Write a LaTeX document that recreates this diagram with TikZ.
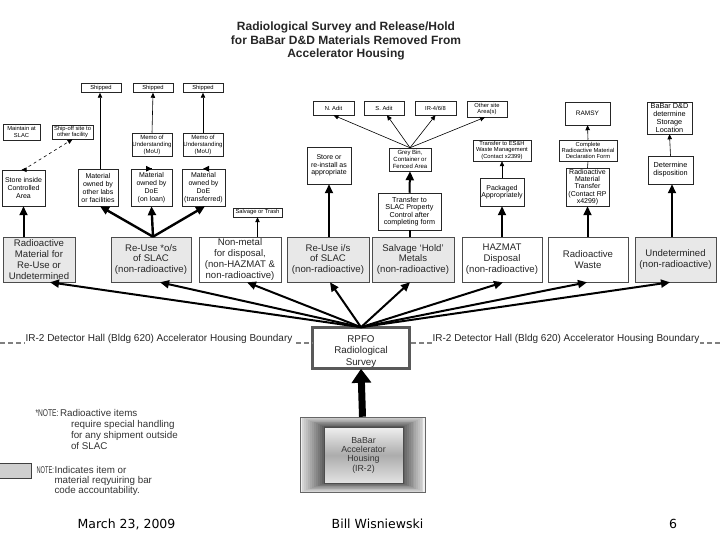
\documentclass[tikz,border=0pt]{standalone}
\usepackage{fontspec}
\setmainfont{Liberation Sans}
\newfontfamily\footfont{DejaVu Sans}
\usetikzlibrary{arrows.meta,calc}
\newcommand{\fsz}[2]{\fontsize{#1}{#2}\selectfont}
\begin{document}
\begin{tikzpicture}[x=1pt,y=-1pt,
  bx/.style={draw=black!85, line width=0.5pt, fill=white, inner sep=0pt, align=center},
  cat/.style={draw=black!70, line width=0.6pt, inner sep=0pt, align=center, minimum height=45, font=\fsz{9.6}{10.9}, text=black!85},
  catg/.style={cat, fill=gray!18},
  catw/.style={cat, fill=white},
  tk/.style={line width=2pt, -{Triangle[length=9pt,width=8pt]}},
  tkn/.style={line width=2pt},
  md/.style={line width=0.9pt, -{Triangle[length=6pt,width=5.5pt]}},
  tn/.style={line width=0.6pt, -{Triangle[length=5pt,width=4.5pt]}},
  bound/.style={draw=gray, line width=1.2pt, dash pattern=on 5pt off 3pt},
  btext/.style={fill=white, inner sep=1pt, font=\fsz{10}{12}, text=black!85},
  note/.style={anchor=base west, font=\fsz{9.8}{11}, text=black!80}
]
\useasboundingbox (0,0) rectangle (720,540);

% title
\node[font=\fsz{12}{13.5}\bfseries, align=center, text=black!85] (title) at (346,41)
  {Radiological Survey and Release/Hold\\for BaBar D\&D Materials Removed From\\Accelerator Housing};

% top row small boxes
\node[bx, minimum width=40, minimum height=9, font=\fsz{5.8}{7}] (ship1) at (101,88) {Shipped};
\node[bx, minimum width=40, minimum height=9, font=\fsz{5.8}{7}] (ship2) at (153,88) {Shipped};
\node[bx, minimum width=40, minimum height=9, font=\fsz{5.8}{7}] (ship3) at (203,88) {Shipped};
\node[bx, minimum width=37, minimum height=16, font=\fsz{5.8}{6.8}] (maint) at (21.5,132) {Maintain at\\SLAC};
\node[bx, minimum width=41, minimum height=14, font=\fsz{5.8}{6.5}] (shipoff) at (72.5,132) {Ship-off site to\\other facility};
\node[bx, minimum width=43, minimum height=36, font=\fsz{7}{7.8}] (store) at (23.5,188) {Store inside\\Controlled\\Area};
\node[bx, minimum width=40, minimum height=37, font=\fsz{7}{8}] (mat1) at (98,187.5) {Material\\owned by\\other labs\\or facilities};
\node[bx, minimum width=41, minimum height=37, font=\fsz{7}{8}] (mat2) at (151.5,187.5) {Material\\owned by\\DoE\\(on loan)};
\node[bx, minimum width=43, minimum height=37, font=\fsz{7}{8}] (mat3) at (203.5,187.5) {Material\\owned by\\DoE\\(transferred)};
\node[bx, minimum width=40, minimum height=23, font=\fsz{6}{7}] (memo1) at (152,144.5) {Memo of\\Understanding\\(MoU)};
\node[bx, minimum width=40, minimum height=23, font=\fsz{6}{7}] (memo2) at (203,144.5) {Memo of\\Understanding\\(MoU)};
\node[bx, minimum width=49, minimum height=9, font=\fsz{5.8}{7}] (salv) at (257.5,212.5) {Salvage or Trash};
\node[bx, minimum width=44, minimum height=37, font=\fsz{7}{7.5}] (storere) at (329,165.5) {Store or\\re-install as\\appropriate};
\node[bx, minimum width=41, minimum height=14, font=\fsz{5.8}{7}] (nadit) at (333.5,108) {N. Adit};
\node[bx, minimum width=40, minimum height=14, font=\fsz{5.8}{7}] (sadit) at (384,108) {S. Adit};
\node[bx, minimum width=41, minimum height=14, font=\fsz{5.8}{7}] (irb) at (435.5,108) {IR-4/6/8};
\node[bx, minimum width=40, minimum height=16, font=\fsz{5.8}{6.5}] (other) at (487,109) {Other site\\Area(s)};
\node[bx, minimum width=42, minimum height=23, font=\fsz{6}{6.8}] (grey) at (410,159.5) {Grey Bin,\\Container or\\Fenced Area};
\node[bx, minimum width=63, minimum height=37, font=\fsz{7.2}{7.4}] (transfer) at (409.5,211.5) {Transfer to\\SLAC Property\\Control after\\completing form};
\node[bx, minimum width=58, minimum height=21, font=\fsz{5.8}{6.2}] (esh) at (502,150.5) {Transfer to ES\&H\\Waste Management\\(Contact x2399)};
\node[bx, minimum width=44, minimum height=28, font=\fsz{7}{7.5}] (pack) at (502,192) {Packaged\\Appropriately};
\node[bx, minimum width=45, minimum height=23, font=\fsz{6.5}{7}] (ramsy) at (587.5,113.5) {RAMSY};
\node[bx, minimum width=58, minimum height=21, font=\fsz{5.8}{6.2}] (complete) at (588,150.5) {Complete\\Radioactive Material\\Declaration Form};
\node[bx, minimum width=43, minimum height=38, font=\fsz{7}{7.3}] (radtrans) at (587.5,187) {Radioactive\\Material\\Transfer\\(Contact RP\\x4299)};
\node[bx, minimum width=45, minimum height=32, font=\fsz{7.3}{7.8}] (babardd) at (669.5,118) {BaBar D\&D\\determine\\Storage\\Location};
\node[bx, minimum width=45, minimum height=28, font=\fsz{7.3}{7.8}] (determ) at (670.5,170) {Determine\\disposition};

% category row
\node[catg, minimum width=72] (c1) at (39,259.5) {Radioactive\\Material for\\Re-Use or\\Undetermined};
\node[catg, minimum width=80] (c2) at (151,259.5) {Re-Use *o/s\\of SLAC\\(non-radioactive)};
\node[catw, minimum width=82] (c3) at (240,259.5) {Non-metal\\for disposal,\\(non-HAZMAT \&\\non-radioactive)};
\node[catg, minimum width=82] (c4) at (328,259.5) {Re-Use i/s\\of SLAC\\(non-radioactive)};
\node[catg, minimum width=82] (c5) at (413,259.5) {Salvage `Hold'\\Metals\\(non-radioactive)};
\node[catw, minimum width=80] (c6) at (502,259.5) {HAZMAT\\Disposal\\(non-radioactive)};
\node[catw, minimum width=80] (c7) at (588,259.5) {Radioactive\\Waste};
\node[catg, minimum width=81] (c8) at (675.5,259.5) {Undetermined\\(non-radioactive)};

% RPFO
\node[draw=black, line width=0.6pt, double=gray!70!black, double distance=2.4pt, fill=white,
  minimum width=97, minimum height=41, inner sep=0pt] (rpfo) at (361,348) {};
\node[align=center, font=\fsz{9.8}{11.2}, text=black!85, inner sep=0pt] (rpfot) at ([yshift=-3.5pt]rpfo.center) {RPFO\\Radiological\\Survey};

% boundary
\coordinate (bl) at (0,343);
\coordinate (br) at (720,343);
\draw[bound] (bl) -- (bl -| rpfo.west);
\draw[bound] (br) -- (br -| rpfo.east);
\node[btext] (bt1) at (159,338.5) {IR-2 Detector Hall (Bldg 620) Accelerator Housing Boundary};
\node[btext] (bt2) at (566,338.5) {IR-2 Detector Hall (Bldg 620) Accelerator Housing Boundary};

% BaBar housing
\node[draw=black!60, line width=0.5pt, fill=gray!12, minimum width=125, minimum height=75, inner sep=0pt] (babarout) at (362.5,454.5) {};
\foreach \i in {1,...,12}{
  \pgfmathsetmacro{\cc}{12+4.5*\i}
  \fill[black!\cc] ($(babarout.north west)+(2*\i,0.8*\i)$) rectangle ($(babarout.south east)+(-1.8*\i,-0.75*\i)$);
}
\node[draw=black!70, line width=0.5pt, minimum width=79, minimum height=56, inner sep=0pt,
  top color=gray!12, bottom color=gray!22, middle color=gray!65, align=center, font=\fsz{8.8}{9.4}, text=black!80]
  (babar) at (363.5,455) {BaBar\\Accelerator\\Housing\\(IR-2)};
\draw[line width=7pt, -{Triangle[length=14pt,width=19pt]}] (babarout.north) -- (rpfo.south);

% RPFO to categories
\draw[tk] (rpfo.north) -- ([xshift=11pt]c1.south);
\draw[tk] (rpfo.north) -- ([xshift=9pt]c2.south);
\draw[tk] (rpfo.north) -- ([xshift=7pt]c3.south);
\draw[tk] (rpfo.north) -- ([xshift=2pt]c4.south);
\draw[tk] (rpfo.north) -- ([xshift=-3pt]c5.south);
\draw[tk] (rpfo.north) -- ([xshift=1pt]c6.south);
\draw[tk] (rpfo.north) -- ([xshift=-1pt]c7.south);
\draw[tk] (rpfo.north) -- ([xshift=-5.5pt]c8.south);

% categories upward
\draw[tk] (store.south |- c1.north) -- (store.south);
\draw[tk, line width=2.4pt] ([xshift=2pt]c2.north) -- ([xshift=2pt]mat1.south);
\draw[tk, line width=2.4pt] ([xshift=2pt]c2.north) -- (mat2.south);
\draw[tk, line width=2.4pt] ([xshift=2pt]c2.north) -- ([xshift=1.5pt]mat3.south);
\draw[tn] (salv.south |- c3.north) -- (salv.south);
\draw[tk] (storere.south |- c4.north) -- (storere.south);
\draw[tkn] (transfer.south |- c5.north) -- (transfer.south);
\draw[tk] (transfer.north) -- (grey.south);
\draw[tk] (pack.south |- c6.north) -- (pack.south);
\draw[tk] (radtrans.south |- c7.north) -- (radtrans.south);
\draw[tk] ([xshift=1.5pt]determ.south |- c8.north) -- ([xshift=1.5pt]determ.south);

% thin connectors
\draw[tn] (store.north) -- (store.north -| maint.south);
\draw[tn, dashed] (store.north) -- (shipoff.south);
\draw[tn] ([xshift=2pt]mat1.north) -- ([xshift=2pt]mat1.north |- ship1.south);
\draw[md] (mat2.north) -- (mat2.north -| memo1.south);
\draw[md] (mat3.north) -- (mat3.north -| memo2.south);
\draw[tn] (memo1.north) -- (ship2.south);
\draw[tn] (memo2.north) -- (ship3.south);
\draw[tn] (grey.north) -- (nadit.south);
\draw[tn] (grey.north) -- ([xshift=3pt]sadit.south);
\draw[tn] (grey.north) -- (irb.south);
\draw[tn] (grey.north) -- ([xshift=-2pt]other.south);
\draw[tn] (pack.north) -- (esh.south);
\draw[tn] (complete.north) -- (ramsy.south);
\draw[line width=0.6pt] (radtrans.north) -- (complete.south);
\draw[tn] (determ.north) -- (babardd.south);

% notes
\node[note] (n1a) at (32,416.5) {\scalebox{0.68}[1]{*NOTE:}};
\node[note] (n1b) at (56.5,416.5) {Radioactive items};
\node[note] (n1c) at (67.5,427.5) {require special handling};
\node[note] (n1d) at (67.5,438.5) {for any shipment outside};
\node[note] (n1e) at (67.5,449.5) {of SLAC};
\node[draw=black!75, line width=0.6pt, fill=gray!38, minimum width=34, minimum height=15, inner sep=0pt] (legend) at (14,470.5) {};
\node[note] (n2a) at (33,473.5) {\scalebox{0.58}[1]{NOTE:}};
\node[note] (n2b) at (51,473.5) {Indicates item or};
\node[note] (n2c) at (51,483.5) {material reqyuiring bar};
\node[note] (n2d) at (51,493.5) {code accountability.};

% footer
\node[font=\footfont\fsz{12.5}{15}] (date) at (126.5,524) {March 23, 2009};
\node[font=\footfont\fsz{12.5}{15}] (author) at (377.5,524) {Bill Wisniewski};
\node[font=\footfont\fsz{12.5}{15}] (page) at (673,524) {6};
\end{tikzpicture}
\end{document}
